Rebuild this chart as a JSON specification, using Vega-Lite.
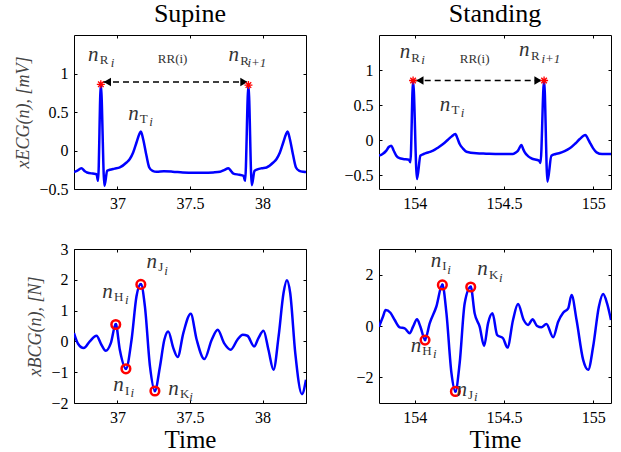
{
  "$schema": "https://vega.github.io/schema/vega-lite/v6.json",
  "background": "white",
  "padding": {"left": 14, "top": 0, "right": 10, "bottom": 0},
  "bounds": "flush",
  "columns": 2,
  "spacing": {"row": 60, "column": 73},
  "config": {
    "view": {"stroke": "black", "strokeWidth": 1},
    "font": "Liberation Serif",
    "axis": {
      "labelFont": "Liberation Serif", "labelFontSize": 16, "labelColor": "black",
      "tickColor": "black", "tickSize": -3, "labelPadding": 9, "domain": false, "grid": false,
      "titleFont": "Liberation Serif", "titleFontWeight": "normal", "titleColor": "black",
      "labelFlush": false, "labelOverlap": false, "format": "~g"
    },
    "title": {"font": "Liberation Serif", "fontSize": 26, "fontWeight": "normal", "anchor": "middle", "offset": 8, "color": "black"},
    "text": {"color": "#333333"}
  },
  "datasets": {
    "ecg_sup": [
      {"time": 36.7, "value": -0.28}, {"time": 36.72, "value": -0.265}, {"time": 36.751, "value": -0.23},
      {"time": 36.775, "value": -0.27}, {"time": 36.79, "value": -0.286}, {"time": 36.83, "value": -0.3},
      {"time": 36.855, "value": -0.307}, {"time": 36.866, "value": -0.394}, {"time": 36.885, "value": 0.861},
      {"time": 36.91, "value": -0.459}, {"time": 36.929, "value": -0.264}, {"time": 36.947, "value": -0.25},
      {"time": 36.98, "value": -0.235}, {"time": 37.016, "value": -0.22}, {"time": 37.062, "value": -0.156},
      {"time": 37.085, "value": -0.11}, {"time": 37.108, "value": -0.026}, {"time": 37.131, "value": 0.104},
      {"time": 37.15, "value": 0.212}, {"time": 37.161, "value": 0.247}, {"time": 37.177, "value": 0.147},
      {"time": 37.2, "value": -0.069}, {"time": 37.219, "value": -0.22}, {"time": 37.242, "value": -0.264},
      {"time": 37.27, "value": -0.277}, {"time": 37.32, "value": -0.27}, {"time": 37.38, "value": -0.275},
      {"time": 37.45, "value": -0.285}, {"time": 37.52, "value": -0.29}, {"time": 37.6, "value": -0.29},
      {"time": 37.66, "value": -0.285}, {"time": 37.707, "value": -0.277}, {"time": 37.735, "value": -0.255},
      {"time": 37.765, "value": -0.23}, {"time": 37.782, "value": -0.265}, {"time": 37.8, "value": -0.3},
      {"time": 37.84, "value": -0.315}, {"time": 37.869, "value": -0.33}, {"time": 37.88, "value": -0.394},
      {"time": 37.903, "value": 0.848}, {"time": 37.926, "value": -0.45}, {"time": 37.945, "value": -0.264},
      {"time": 37.965, "value": -0.245}, {"time": 37.995, "value": -0.23}, {"time": 38.028, "value": -0.22},
      {"time": 38.074, "value": -0.156}, {"time": 38.097, "value": -0.11}, {"time": 38.12, "value": -0.026},
      {"time": 38.143, "value": 0.104}, {"time": 38.162, "value": 0.212}, {"time": 38.173, "value": 0.247},
      {"time": 38.189, "value": 0.147}, {"time": 38.212, "value": -0.069}, {"time": 38.231, "value": -0.22},
      {"time": 38.254, "value": -0.264}, {"time": 38.282, "value": -0.277}, {"time": 38.3, "value": -0.28}
    ],
    "ecg_std": [
      {"time": 153.8, "value": -0.224}, {"time": 153.82, "value": -0.2}, {"time": 153.841, "value": -0.152},
      {"time": 153.855, "value": -0.1}, {"time": 153.869, "value": -0.081}, {"time": 153.882, "value": -0.15},
      {"time": 153.897, "value": -0.224}, {"time": 153.915, "value": -0.26}, {"time": 153.935, "value": -0.271},
      {"time": 153.968, "value": -0.281}, {"time": 153.976, "value": -0.319}, {"time": 153.991, "value": 0.848},
      {"time": 154.013, "value": -0.557}, {"time": 154.032, "value": -0.224}, {"time": 154.05, "value": -0.2},
      {"time": 154.065, "value": -0.186}, {"time": 154.085, "value": -0.17}, {"time": 154.103, "value": -0.152},
      {"time": 154.13, "value": -0.11}, {"time": 154.159, "value": -0.057}, {"time": 154.185, "value": 0.0},
      {"time": 154.206, "value": 0.048}, {"time": 154.228, "value": 0.086}, {"time": 154.24, "value": 0.02},
      {"time": 154.252, "value": -0.057}, {"time": 154.27, "value": -0.12}, {"time": 154.29, "value": -0.167},
      {"time": 154.346, "value": -0.19}, {"time": 154.4, "value": -0.195}, {"time": 154.477, "value": -0.2},
      {"time": 154.551, "value": -0.2}, {"time": 154.567, "value": -0.18}, {"time": 154.579, "value": -0.152},
      {"time": 154.598, "value": -0.071}, {"time": 154.608, "value": -0.13}, {"time": 154.617, "value": -0.176},
      {"time": 154.635, "value": -0.23}, {"time": 154.654, "value": -0.262}, {"time": 154.697, "value": -0.295},
      {"time": 154.705, "value": -0.329}, {"time": 154.725, "value": 0.857}, {"time": 154.744, "value": -0.595},
      {"time": 154.766, "value": -0.224}, {"time": 154.79, "value": -0.2}, {"time": 154.813, "value": -0.186},
      {"time": 154.84, "value": -0.16}, {"time": 154.869, "value": -0.119}, {"time": 154.9, "value": -0.05},
      {"time": 154.925, "value": 0.014}, {"time": 154.957, "value": 0.071}, {"time": 154.97, "value": 0.02},
      {"time": 154.981, "value": -0.033}, {"time": 155.0, "value": -0.12}, {"time": 155.019, "value": -0.176},
      {"time": 155.05, "value": -0.2}, {"time": 155.1, "value": -0.2}
    ],
    "bcg_sup": [
      {"time": 36.7, "value": 0.271}, {"time": 36.728, "value": -0.076}, {"time": 36.767, "value": -0.217},
      {"time": 36.809, "value": 0.0}, {"time": 36.855, "value": 0.184}, {"time": 36.889, "value": -0.108},
      {"time": 36.919, "value": -0.303}, {"time": 36.954, "value": -0.054}, {"time": 36.988, "value": 0.563},
      {"time": 37.016, "value": -0.271}, {"time": 37.058, "value": -0.888}, {"time": 37.097, "value": 0.054},
      {"time": 37.131, "value": 1.463}, {"time": 37.161, "value": 1.863}, {"time": 37.189, "value": 1.138},
      {"time": 37.224, "value": -0.813}, {"time": 37.258, "value": -1.603}, {"time": 37.293, "value": -0.813},
      {"time": 37.323, "value": 0.054}, {"time": 37.35, "value": 0.325}, {"time": 37.385, "value": -0.217},
      {"time": 37.415, "value": -0.509}, {"time": 37.454, "value": 0.271}, {"time": 37.505, "value": 0.899},
      {"time": 37.546, "value": 0.054}, {"time": 37.599, "value": -0.574}, {"time": 37.65, "value": 0.054},
      {"time": 37.691, "value": 0.379}, {"time": 37.735, "value": -0.054}, {"time": 37.781, "value": -0.271},
      {"time": 37.827, "value": 0.054}, {"time": 37.864, "value": 0.217}, {"time": 37.896, "value": 0.184},
      {"time": 37.942, "value": -0.163}, {"time": 37.972, "value": 0.108}, {"time": 38.007, "value": 0.347},
      {"time": 38.041, "value": -0.271}, {"time": 38.076, "value": -0.921}, {"time": 38.111, "value": 0.163},
      {"time": 38.145, "value": 1.571}, {"time": 38.168, "value": 1.983}, {"time": 38.191, "value": 1.571},
      {"time": 38.226, "value": -0.379}, {"time": 38.272, "value": -1.712}, {"time": 38.3, "value": -1.246}
    ],
    "bcg_std": [
      {"time": 153.8, "value": -0.026}, {"time": 153.822, "value": 0.362}, {"time": 153.837, "value": 0.621},
      {"time": 153.864, "value": 0.517}, {"time": 153.888, "value": 0.233}, {"time": 153.916, "value": -0.052},
      {"time": 153.944, "value": -0.091}, {"time": 153.972, "value": -0.285}, {"time": 153.991, "value": -0.026},
      {"time": 154.013, "value": 0.259}, {"time": 154.032, "value": -0.026}, {"time": 154.058, "value": -0.543},
      {"time": 154.084, "value": 0.103}, {"time": 154.121, "value": 0.75}, {"time": 154.155, "value": 1.617},
      {"time": 154.178, "value": 0.492}, {"time": 154.206, "value": -1.837}, {"time": 154.228, "value": -2.549},
      {"time": 154.252, "value": -1.449}, {"time": 154.28, "value": 0.88}, {"time": 154.314, "value": 1.527},
      {"time": 154.336, "value": 0.492}, {"time": 154.364, "value": -0.026}, {"time": 154.389, "value": -0.776},
      {"time": 154.411, "value": 0.103}, {"time": 154.436, "value": 0.492}, {"time": 154.462, "value": -0.349},
      {"time": 154.495, "value": -0.479}, {"time": 154.52, "value": -0.841}, {"time": 154.551, "value": 0.233},
      {"time": 154.579, "value": 0.854}, {"time": 154.611, "value": 0.233}, {"time": 154.636, "value": 0.039},
      {"time": 154.66, "value": 0.259}, {"time": 154.686, "value": 0.0}, {"time": 154.71, "value": -0.052},
      {"time": 154.738, "value": 0.078}, {"time": 154.776, "value": -0.44}, {"time": 154.804, "value": 0.168},
      {"time": 154.832, "value": 0.517}, {"time": 154.86, "value": 0.686}, {"time": 154.879, "value": 1.203},
      {"time": 154.907, "value": 0.233}, {"time": 154.944, "value": -1.32}, {"time": 154.972, "value": -1.708},
      {"time": 155.0, "value": -0.802}, {"time": 155.032, "value": 0.75}, {"time": 155.056, "value": 1.242},
      {"time": 155.078, "value": 0.88}, {"time": 155.1, "value": 0.233}
    ],
    "stars_sup": [{"time": 36.885, "value": 0.86}, {"time": 37.903, "value": 0.85}],
    "stars_std": [{"time": 153.991, "value": 0.85}, {"time": 154.725, "value": 0.85}],
    "arrow_sup": [{"time": 36.9, "value": 0.89}, {"time": 37.89, "value": 0.89}],
    "arrow_std": [{"time": 154.0, "value": 0.85}, {"time": 154.715, "value": 0.85}],
    "heads_sup": [{"time": 36.93, "value": 0.89, "dir": "left"}, {"time": 37.872, "value": 0.89, "dir": "right"}],
    "heads_std": [{"time": 154.029, "value": 0.85, "dir": "left"}, {"time": 154.691, "value": 0.85, "dir": "right"}],
    "circ_sup": [{"time": 36.988, "value": 0.55}, {"time": 37.058, "value": -0.89}, {"time": 37.161, "value": 1.85}, {"time": 37.258, "value": -1.61}],
    "circ_std": [{"time": 154.058, "value": -0.55}, {"time": 154.155, "value": 1.6}, {"time": 154.228, "value": -2.55}, {"time": 154.314, "value": 1.52}],
    "lab_ecg_sup": [
      {"time": 36.797, "value": 1.165, "label": "n", "kind": "n"},
      {"time": 36.878, "value": 1.121, "label": "R", "kind": "sub"},
      {"time": 36.954, "value": 1.087, "label": "i", "kind": "subi"},
      {"time": 37.38, "value": 1.13, "label": "RR(i)", "kind": "plain"},
      {"time": 37.765, "value": 1.156, "label": "n", "kind": "n"},
      {"time": 37.846, "value": 1.113, "label": "R", "kind": "sub"},
      {"time": 37.896, "value": 1.078, "label": "i+1", "kind": "subi"},
      {"time": 37.074, "value": 0.398, "label": "n", "kind": "n"},
      {"time": 37.154, "value": 0.355, "label": "T", "kind": "sub"},
      {"time": 37.219, "value": 0.32, "label": "i", "kind": "subi"}
    ],
    "lab_ecg_std": [
      {"time": 153.916, "value": 1.167, "label": "n", "kind": "n"},
      {"time": 153.981, "value": 1.119, "label": "R", "kind": "sub"},
      {"time": 154.037, "value": 1.081, "label": "i", "kind": "subi"},
      {"time": 154.336, "value": 1.095, "label": "RR(i)", "kind": "plain"},
      {"time": 154.585, "value": 1.195, "label": "n", "kind": "n"},
      {"time": 154.652, "value": 1.148, "label": "R", "kind": "sub"},
      {"time": 154.71, "value": 1.1, "label": "i+1", "kind": "subi"},
      {"time": 154.14, "value": 0.419, "label": "n", "kind": "n"},
      {"time": 154.206, "value": 0.371, "label": "T", "kind": "sub"},
      {"time": 154.258, "value": 0.324, "label": "i", "kind": "subi"}
    ],
    "lab_bcg_sup": [
      {"time": 36.894, "value": 1.408, "label": "n", "kind": "n"},
      {"time": 36.975, "value": 1.3, "label": "H", "kind": "sub"},
      {"time": 37.051, "value": 1.213, "label": "i", "kind": "subi"},
      {"time": 37.2, "value": 2.383, "label": "n", "kind": "n"},
      {"time": 37.281, "value": 2.275, "label": "J", "kind": "sub"},
      {"time": 37.323, "value": 2.167, "label": "i", "kind": "subi"},
      {"time": 36.97, "value": -1.625, "label": "n", "kind": "n"},
      {"time": 37.052, "value": -1.733, "label": "I", "kind": "sub"},
      {"time": 37.09, "value": -1.82, "label": "i", "kind": "subi"},
      {"time": 37.35, "value": -1.733, "label": "n", "kind": "n"},
      {"time": 37.431, "value": -1.842, "label": "K", "kind": "sub"},
      {"time": 37.495, "value": -1.928, "label": "i", "kind": "subi"}
    ],
    "lab_bcg_std": [
      {"time": 154.09, "value": 2.303, "label": "n", "kind": "n"},
      {"time": 154.155, "value": 2.173, "label": "I", "kind": "sub"},
      {"time": 154.183, "value": 2.044, "label": "i", "kind": "subi"},
      {"time": 154.351, "value": 1.979, "label": "n", "kind": "n"},
      {"time": 154.417, "value": 1.85, "label": "K", "kind": "sub"},
      {"time": 154.473, "value": 1.721, "label": "i", "kind": "subi"},
      {"time": 153.978, "value": -0.996, "label": "n", "kind": "n"},
      {"time": 154.043, "value": -1.125, "label": "H", "kind": "sub"},
      {"time": 154.103, "value": -1.229, "label": "i", "kind": "subi"},
      {"time": 154.234, "value": -2.717, "label": "n", "kind": "n"},
      {"time": 154.299, "value": -2.846, "label": "J", "kind": "sub"},
      {"time": 154.333, "value": -2.937, "label": "i", "kind": "subi"}
    ]
  },
  "concat": [
    {
      "title": "Supine",
      "width": 232, "height": 154,
      "resolve": {"axis": {"x": "independent", "y": "independent"}},
      "layer": [
        {"data": {"name": "ecg_sup"}, "mark": {"type": "line", "color": "#0000ff", "strokeWidth": 2.5, "interpolate": "monotone", "clip": true},
         "encoding": {
           "x": {"field": "time", "type": "quantitative", "scale": {"domain": [36.7, 38.3], "nice": false, "zero": false}, "axis": {"values": [37, 37.5, 38], "title": null}},
           "y": {"field": "value", "type": "quantitative", "scale": {"domain": [-0.5, 1.5], "nice": false, "zero": false}, "axis": {"values": [-0.5, 0, 0.5, 1], "title": "xECG(n), [mV]", "titleFontStyle": "italic", "titleFontSize": 18, "titleColor": "#444444", "titlePadding": 6}}
         }},
        {"data": {"name": "arrow_sup"}, "mark": {"type": "line", "color": "black", "strokeDash": [6, 4], "strokeWidth": 1.5},
         "encoding": {"x": {"field": "time", "type": "quantitative", "axis": null}, "y": {"field": "value", "type": "quantitative", "axis": null}}},
        {"data": {"name": "heads_sup"}, "mark": {"type": "point", "filled": true, "color": "black", "size": 70, "opacity": 1},
         "encoding": {"x": {"field": "time", "type": "quantitative", "axis": null}, "y": {"field": "value", "type": "quantitative", "axis": null},
           "shape": {"field": "dir", "type": "nominal", "scale": {"domain": ["left", "right"], "range": ["triangle-left", "triangle-right"]}, "legend": null}}},
        {"data": {"name": "stars_sup"}, "mark": {"type": "point", "shape": "M-1,0L1,0M0,-1L0,1M-0.7,-0.7L0.7,0.7M-0.7,0.7L0.7,-0.7", "filled": false, "color": "red", "strokeWidth": 1.3, "size": 64, "opacity": 1},
         "encoding": {"x": {"field": "time", "type": "quantitative", "axis": {"orient": "top", "labels": false, "values": [37, 37.5, 38], "title": null}},
           "y": {"field": "value", "type": "quantitative", "axis": {"orient": "right", "labels": false, "values": [-0.5, 0, 0.5, 1], "title": null}}}},
        {"data": {"name": "lab_ecg_sup"}, "transform": [{"filter": "datum.kind == 'n'"}], "mark": {"type": "text", "font": "Liberation Serif", "fontStyle": "italic", "fontSize": 21, "align": "left", "baseline": "alphabetic"},
         "encoding": {"x": {"field": "time", "type": "quantitative", "axis": null}, "y": {"field": "value", "type": "quantitative", "axis": null}, "text": {"field": "label"}}},
        {"data": {"name": "lab_ecg_sup"}, "transform": [{"filter": "datum.kind == 'sub'"}], "mark": {"type": "text", "font": "Liberation Serif", "fontSize": 13, "align": "left", "baseline": "alphabetic"},
         "encoding": {"x": {"field": "time", "type": "quantitative", "axis": null}, "y": {"field": "value", "type": "quantitative", "axis": null}, "text": {"field": "label"}}},
        {"data": {"name": "lab_ecg_sup"}, "transform": [{"filter": "datum.kind == 'subi'"}], "mark": {"type": "text", "font": "Liberation Serif", "fontStyle": "italic", "fontSize": 13, "align": "left", "baseline": "alphabetic"},
         "encoding": {"x": {"field": "time", "type": "quantitative", "axis": null}, "y": {"field": "value", "type": "quantitative", "axis": null}, "text": {"field": "label"}}},
        {"data": {"name": "lab_ecg_sup"}, "transform": [{"filter": "datum.kind == 'plain'"}], "mark": {"type": "text", "font": "Liberation Serif", "fontSize": 13, "align": "center", "baseline": "alphabetic"},
         "encoding": {"x": {"field": "time", "type": "quantitative", "axis": null}, "y": {"field": "value", "type": "quantitative", "axis": null}, "text": {"field": "label"}}}
      ]
    },
    {
      "title": "Standing",
      "width": 232, "height": 154,
      "resolve": {"axis": {"x": "independent", "y": "independent"}},
      "layer": [
        {"data": {"name": "ecg_std"}, "mark": {"type": "line", "color": "#0000ff", "strokeWidth": 2.5, "interpolate": "monotone", "clip": true},
         "encoding": {
           "x": {"field": "time", "type": "quantitative", "scale": {"domain": [153.8, 155.1], "nice": false, "zero": false}, "axis": {"values": [154, 154.5, 155], "title": null}},
           "y": {"field": "value", "type": "quantitative", "scale": {"domain": [-0.7, 1.5], "nice": false, "zero": false}, "axis": {"values": [-0.5, 0, 0.5, 1], "title": null}}
         }},
        {"data": {"name": "arrow_std"}, "mark": {"type": "line", "color": "black", "strokeDash": [6, 4], "strokeWidth": 1.5},
         "encoding": {"x": {"field": "time", "type": "quantitative", "axis": null}, "y": {"field": "value", "type": "quantitative", "axis": null}}},
        {"data": {"name": "heads_std"}, "mark": {"type": "point", "filled": true, "color": "black", "size": 70, "opacity": 1},
         "encoding": {"x": {"field": "time", "type": "quantitative", "axis": null}, "y": {"field": "value", "type": "quantitative", "axis": null},
           "shape": {"field": "dir", "type": "nominal", "scale": {"domain": ["left", "right"], "range": ["triangle-left", "triangle-right"]}, "legend": null}}},
        {"data": {"name": "stars_std"}, "mark": {"type": "point", "shape": "M-1,0L1,0M0,-1L0,1M-0.7,-0.7L0.7,0.7M-0.7,0.7L0.7,-0.7", "filled": false, "color": "red", "strokeWidth": 1.3, "size": 64, "opacity": 1},
         "encoding": {"x": {"field": "time", "type": "quantitative", "axis": {"orient": "top", "labels": false, "values": [154, 154.5, 155], "title": null}},
           "y": {"field": "value", "type": "quantitative", "axis": {"orient": "right", "labels": false, "values": [-0.5, 0, 0.5, 1], "title": null}}}},
        {"data": {"name": "lab_ecg_std"}, "transform": [{"filter": "datum.kind == 'n'"}], "mark": {"type": "text", "font": "Liberation Serif", "fontStyle": "italic", "fontSize": 21, "align": "left", "baseline": "alphabetic"},
         "encoding": {"x": {"field": "time", "type": "quantitative", "axis": null}, "y": {"field": "value", "type": "quantitative", "axis": null}, "text": {"field": "label"}}},
        {"data": {"name": "lab_ecg_std"}, "transform": [{"filter": "datum.kind == 'sub'"}], "mark": {"type": "text", "font": "Liberation Serif", "fontSize": 13, "align": "left", "baseline": "alphabetic"},
         "encoding": {"x": {"field": "time", "type": "quantitative", "axis": null}, "y": {"field": "value", "type": "quantitative", "axis": null}, "text": {"field": "label"}}},
        {"data": {"name": "lab_ecg_std"}, "transform": [{"filter": "datum.kind == 'subi'"}], "mark": {"type": "text", "font": "Liberation Serif", "fontStyle": "italic", "fontSize": 13, "align": "left", "baseline": "alphabetic"},
         "encoding": {"x": {"field": "time", "type": "quantitative", "axis": null}, "y": {"field": "value", "type": "quantitative", "axis": null}, "text": {"field": "label"}}},
        {"data": {"name": "lab_ecg_std"}, "transform": [{"filter": "datum.kind == 'plain'"}], "mark": {"type": "text", "font": "Liberation Serif", "fontSize": 13, "align": "center", "baseline": "alphabetic"},
         "encoding": {"x": {"field": "time", "type": "quantitative", "axis": null}, "y": {"field": "value", "type": "quantitative", "axis": null}, "text": {"field": "label"}}}
      ]
    },
    {
      "width": 232, "height": 154,
      "resolve": {"axis": {"x": "independent", "y": "independent"}},
      "layer": [
        {"data": {"name": "bcg_sup"}, "mark": {"type": "line", "color": "#0000ff", "strokeWidth": 2.5, "interpolate": "monotone", "clip": true},
         "encoding": {
           "x": {"field": "time", "type": "quantitative", "scale": {"domain": [36.7, 38.3], "nice": false, "zero": false}, "axis": {"values": [37, 37.5, 38], "title": "Time", "titleFontSize": 25, "titlePadding": 2}},
           "y": {"field": "value", "type": "quantitative", "scale": {"domain": [-2, 3], "nice": false, "zero": false}, "axis": {"values": [-2, -1, 0, 1, 2, 3], "title": "xBCG(n), [N]", "titleFontStyle": "italic", "titleFontSize": 18, "titleColor": "#444444", "titlePadding": 6}}
         }},
        {"data": {"name": "circ_sup"}, "mark": {"type": "point", "shape": "circle", "filled": false, "color": "red", "strokeWidth": 2.5, "size": 75, "opacity": 1},
         "encoding": {"x": {"field": "time", "type": "quantitative", "axis": {"orient": "top", "labels": false, "values": [37, 37.5, 38], "title": null}},
           "y": {"field": "value", "type": "quantitative", "axis": {"orient": "right", "labels": false, "values": [-2, -1, 0, 1, 2, 3], "title": null}}}},
        {"data": {"name": "circ_sup"}, "mark": {"type": "point", "shape": "circle", "filled": true, "color": "#0000ff", "size": 8, "opacity": 1},
         "encoding": {"x": {"field": "time", "type": "quantitative", "axis": null}, "y": {"field": "value", "type": "quantitative", "axis": null}}},
        {"data": {"name": "lab_bcg_sup"}, "transform": [{"filter": "datum.kind == 'n'"}], "mark": {"type": "text", "font": "Liberation Serif", "fontStyle": "italic", "fontSize": 21, "align": "left", "baseline": "alphabetic"},
         "encoding": {"x": {"field": "time", "type": "quantitative", "axis": null}, "y": {"field": "value", "type": "quantitative", "axis": null}, "text": {"field": "label"}}},
        {"data": {"name": "lab_bcg_sup"}, "transform": [{"filter": "datum.kind == 'sub'"}], "mark": {"type": "text", "font": "Liberation Serif", "fontSize": 13, "align": "left", "baseline": "alphabetic"},
         "encoding": {"x": {"field": "time", "type": "quantitative", "axis": null}, "y": {"field": "value", "type": "quantitative", "axis": null}, "text": {"field": "label"}}},
        {"data": {"name": "lab_bcg_sup"}, "transform": [{"filter": "datum.kind == 'subi'"}], "mark": {"type": "text", "font": "Liberation Serif", "fontStyle": "italic", "fontSize": 13, "align": "left", "baseline": "alphabetic"},
         "encoding": {"x": {"field": "time", "type": "quantitative", "axis": null}, "y": {"field": "value", "type": "quantitative", "axis": null}, "text": {"field": "label"}}}
      ]
    },
    {
      "width": 232, "height": 154,
      "resolve": {"axis": {"x": "independent", "y": "independent"}},
      "layer": [
        {"data": {"name": "bcg_std"}, "mark": {"type": "line", "color": "#0000ff", "strokeWidth": 2.5, "interpolate": "monotone", "clip": true},
         "encoding": {
           "x": {"field": "time", "type": "quantitative", "scale": {"domain": [153.8, 155.1], "nice": false, "zero": false}, "axis": {"values": [154, 154.5, 155], "title": "Time", "titleFontSize": 25, "titlePadding": 2}},
           "y": {"field": "value", "type": "quantitative", "scale": {"domain": [-3, 3], "nice": false, "zero": false}, "axis": {"values": [-2, 0, 2], "title": null}}
         }},
        {"data": {"name": "circ_std"}, "mark": {"type": "point", "shape": "circle", "filled": false, "color": "red", "strokeWidth": 2.5, "size": 75, "opacity": 1},
         "encoding": {"x": {"field": "time", "type": "quantitative", "axis": {"orient": "top", "labels": false, "values": [154, 154.5, 155], "title": null}},
           "y": {"field": "value", "type": "quantitative", "axis": {"orient": "right", "labels": false, "values": [-2, 0, 2], "title": null}}}},
        {"data": {"name": "circ_std"}, "mark": {"type": "point", "shape": "circle", "filled": true, "color": "#0000ff", "size": 8, "opacity": 1},
         "encoding": {"x": {"field": "time", "type": "quantitative", "axis": null}, "y": {"field": "value", "type": "quantitative", "axis": null}}},
        {"data": {"name": "lab_bcg_std"}, "transform": [{"filter": "datum.kind == 'n'"}], "mark": {"type": "text", "font": "Liberation Serif", "fontStyle": "italic", "fontSize": 21, "align": "left", "baseline": "alphabetic"},
         "encoding": {"x": {"field": "time", "type": "quantitative", "axis": null}, "y": {"field": "value", "type": "quantitative", "axis": null}, "text": {"field": "label"}}},
        {"data": {"name": "lab_bcg_std"}, "transform": [{"filter": "datum.kind == 'sub'"}], "mark": {"type": "text", "font": "Liberation Serif", "fontSize": 13, "align": "left", "baseline": "alphabetic"},
         "encoding": {"x": {"field": "time", "type": "quantitative", "axis": null}, "y": {"field": "value", "type": "quantitative", "axis": null}, "text": {"field": "label"}}},
        {"data": {"name": "lab_bcg_std"}, "transform": [{"filter": "datum.kind == 'subi'"}], "mark": {"type": "text", "font": "Liberation Serif", "fontStyle": "italic", "fontSize": 13, "align": "left", "baseline": "alphabetic"},
         "encoding": {"x": {"field": "time", "type": "quantitative", "axis": null}, "y": {"field": "value", "type": "quantitative", "axis": null}, "text": {"field": "label"}}}
      ]
    }
  ]
}
